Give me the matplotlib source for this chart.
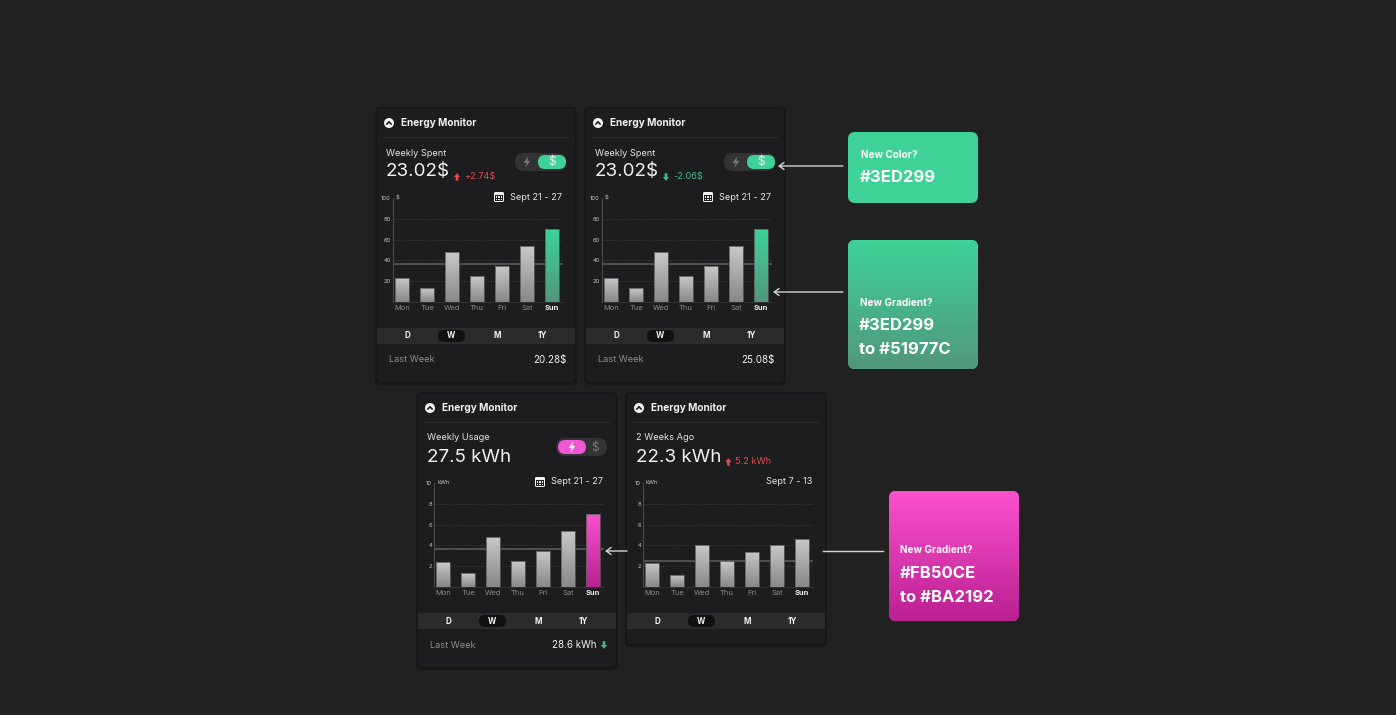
import numpy as np
import matplotlib.pyplot as plt
from matplotlib.patches import FancyBboxPatch, Circle, Polygon, Rectangle
from matplotlib.colors import LinearSegmentedColormap

W, H = 1396, 715
plt.rcParams['font.family'] = ['Inter', 'DejaVu Sans']

# data
days = ['Mon', 'Tue', 'Wed', 'Thu', 'Fri', 'Sat', 'Sun']
spent_week = [23.5, 13, 48, 25, 34.5, 53.5, 70]      # $
spent_avg = 36.5
spent_ticks = [20, 40, 60, 80, 100]
usage_week = [2.4, 1.3, 4.8, 2.5, 3.5, 5.4, 7.0]     # kWh
usage_avg = 3.65
usage_prev = [2.3, 1.2, 4.0, 2.5, 3.4, 4.0, 4.6]     # kWh, 2 weeks ago
usage_prev_avg = 2.5
usage_ticks = [2, 4, 6, 8, 10]
tabs = ['D', 'W', 'M', '1Y']

BG = '#212121'
CARD = '#1d1d1f'
WHITE = '#f2f2f2'
GREY = '#8d8d8d'
RED = '#e5484d'
GREEN = '#3cb88a'

fig = plt.figure(figsize=(W / 100, H / 100), dpi=100)
fig.patch.set_facecolor(BG)
bg = fig.add_axes([0, 0, 1, 1])
bg.set_facecolor(BG)
bg.set_xlim(0, W)
bg.set_ylim(H, 0)
bg.axis('off')
rend = fig.canvas.get_renderer()
ramp = np.linspace(0, 1, 64).reshape(-1, 1)


def rbox(x, y, w, h, r, color, z=1):
    p = FancyBboxPatch((x, y), w, h, boxstyle='round,pad=0,rounding_size=%g' % r,
                       fc=color, ec='none', zorder=z)
    bg.add_patch(p)
    return p


def grad(ax, patch, extent, c0, c1, z):
    cmap = LinearSegmentedColormap.from_list('g', [c0, c1])
    im = ax.imshow(ramp, cmap=cmap, extent=extent, aspect='auto', zorder=z,
                   interpolation='bilinear')
    im.set_clip_path(patch)


def arrow_glyph(x, y, up, color, s=1.0):
    pts = np.array([(-1.3, 3.8), (-1.3, 0), (-3.2, 0), (0, -3.8), (3.2, 0), (1.3, 0), (1.3, 3.8)]) * s
    if not up:
        pts[:, 1] *= -1
    bg.add_patch(Polygon(pts + [x, y], closed=True, fc=color, ec='none', zorder=5))


def bolt(x, y, color, s=6):
    pts = np.array([(0.25, -1), (-0.55, 0.15), (-0.05, 0.15), (-0.3, 1),
                    (0.55, -0.2), (0.05, -0.2)]) * s
    bg.add_patch(Polygon(pts + [x, y], closed=True, fc=color, ec='none', zorder=6))


def calendar(x, y):
    bg.add_patch(FancyBboxPatch((x - 5, y - 5), 10, 10, boxstyle='round,pad=0,rounding_size=1.5',
                                fc=WHITE, ec='none', zorder=5))
    bg.add_patch(Rectangle((x - 4, y - 2), 8, 6, fc=CARD, ec='none', zorder=6))
    for dx in (-2.5, 0, 2.5):
        for dy in (0, 2.2):
            bg.add_patch(Rectangle((x + dx - 0.7, y + dy - 0.7), 1.4, 1.4, fc=WHITE, ec='none', zorder=7))


def chart(ox, oy, vals, avg, ticks, unit, c_top, c_bot):
    l, r, b, t = ox + 16, ox + 186, oy + 194, oy + 90
    ax = fig.add_axes([l / W, 1 - b / H, (r - l) / W, (b - t) / H])
    ax.set_facecolor('none')
    x = np.arange(len(days))
    bars = ax.bar(x, vals, width=0.56, color='none', edgecolor='#5c5c5c', lw=0.6, zorder=3)
    for i, bar in enumerate(bars):
        c0, c1 = ('#c8c8c8', '#888888')
        if i == len(days) - 1 and c_top is not None:
            c0, c1 = c_top, c_bot
        bx, bw, bh = bar.get_x(), bar.get_width(), bar.get_height()
        grad(ax, bar, [bx, bx + bw, 0, bh], c0, c1, 2)
    for g in ticks[:-1]:
        ax.axhline(g, color='#404040', lw=0.7, ls=(0, (1, 1.5)), zorder=1)
    ax.axhline(avg, color='#4f4f4f', lw=1.5, zorder=1.5)
    ax.set_xlim(-0.36, 6.44)
    ax.set_ylim(0, ticks[-1])
    ax.set_yticks(ticks, [str(v) for v in ticks])
    ax.set_xticks(x, days)
    ax.tick_params(axis='y', length=0, pad=1.5, labelsize=4.2, labelcolor='#c4c4c4')
    ax.tick_params(axis='x', length=0, pad=2.3, labelsize=5.4, labelcolor='#8a8a8a')
    last = ax.get_xticklabels()[-1]
    last.set_color(WHITE)
    last.set_fontweight('bold')
    for s in ('top', 'right'):
        ax.spines[s].set_visible(False)
    ax.spines['left'].set_color('#4a4a4a')
    ax.spines['left'].set_linewidth(0.8)
    ax.spines['bottom'].set_color('#363636')
    ax.spines['bottom'].set_linewidth(0.6)
    bg.text(ox + 19, oy + 90, unit, color='#c4c4c4', fontsize=4.2, ha='left', va='center')


def card(ox, oy, h, sub, value, delta, delta_up, date, vals, avg, ticks, unit,
         c_top, c_bot, toggle, last_value, last_arrow):
    w = 198
    rbox(ox - 2, oy - 1, w + 4, h + 4, 6, '#171717', z=1)
    rbox(ox, oy, w, h, 5, CARD, z=2)
    # header
    bg.add_patch(Circle((ox + 12, oy + 15), 5, fc=WHITE, ec='none', zorder=5))
    bg.plot([ox + 9.8, ox + 12, ox + 14.2], [oy + 16.1, oy + 13.8, oy + 16.1],
            color=CARD, lw=1.2, zorder=6, solid_capstyle='round')
    bg.text(ox + 24, oy + 15, 'Energy Monitor', color=WHITE, fontsize=7.2, fontweight='bold',
            ha='left', va='center', zorder=5)
    bg.plot([ox + 6, ox + 191], [oy + 29, oy + 29], color='#2e2e30', lw=0.8, zorder=3)
    # value block
    bg.text(ox + 9, oy + 45, sub, color='#e4e4e4', fontsize=6.6, ha='left', va='center', zorder=5)
    t = bg.text(ox + 9, oy + 64, value, color=WHITE, fontsize=13.5, ha='left', va='center', zorder=5)
    if delta:
        x_end = t.get_window_extent(renderer=rend).x1
        col = RED if delta_up else GREEN
        arrow_glyph(x_end + 7, oy + 69, delta_up, col, 1.0)
        bg.text(x_end + 14, oy + 69, delta, color=col, fontsize=6.6, ha='left', va='center', zorder=5)
    # toggle
    if toggle:
        rbox(ox + 138, oy + 45, 51, 18, 9, '#333335', z=4)
        if toggle == 'money':
            rbox(ox + 161, oy + 47, 28, 14, 7, '#3ED299', z=5)
            bolt(ox + 150, oy + 54, '#7a7a7a')
            bg.text(ox + 175, oy + 54.5, '$', color=WHITE, fontsize=8.5, ha='center', va='center', zorder=6)
        else:
            rbox(ox + 140, oy + 47, 28, 14, 7, '#F056D6', z=5)
            bolt(ox + 154, oy + 54, WHITE)
            bg.text(ox + 177, oy + 54.5, '$', color='#7a7a7a', fontsize=8.5, ha='center', va='center', zorder=6)
        calendar(ox + 122, oy + 89)
    bg.text(ox + 185, oy + 89, date, color='#e4e4e4', fontsize=6.6, ha='right', va='center', zorder=5)
    chart(ox, oy, vals, avg, ticks, unit, c_top, c_bot)
    # period tabs
    bg.add_patch(Rectangle((ox, oy + 220), w, 16, fc='#2b2b2d', ec='none', zorder=3))
    rbox(ox + 61, oy + 222, 27, 12, 6, '#111111', z=4)
    for lab, tx in zip(tabs, [30, 74, 120, 165]):
        bg.text(ox + tx, oy + 228, lab, color=WHITE, fontsize=5.8, fontweight='bold',
                ha='center', va='center', zorder=5)
    if last_value:
        bg.text(ox + 12, oy + 252, 'Last Week', color=GREY, fontsize=6.6, ha='left', va='center', zorder=5)
        vx = ox + 189
        if last_arrow:
            arrow_glyph(vx - 3, oy + 252, False, GREEN, 1.0)
            vx -= 10
        bg.text(vx, oy + 252, last_value, color=WHITE, fontsize=7, ha='right', va='center', zorder=5)


card(377, 108, 274, 'Weekly Spent', '23.02$', '+2.74$', True, 'Sept 21 - 27',
     spent_week, spent_avg, spent_ticks, '$', '#3ED299', '#51977C', 'money', '20.28$', False)
card(586, 108, 274, 'Weekly Spent', '23.02$', '-2.06$', False, 'Sept 21 - 27',
     spent_week, spent_avg, spent_ticks, '$', '#3ED299', '#51977C', 'money', '25.08$', False)
card(418, 393, 274, 'Weekly Usage', '27.5 kWh', None, False, 'Sept 21 - 27',
     usage_week, usage_avg, usage_ticks, 'kWh', '#FB50CE', '#BA2192', 'energy', '28.6 kWh', True)
card(627, 393, 251, '2 Weeks Ago', '22.3 kWh', '5.2 kWh', True, 'Sept 7 - 13',
     usage_prev, usage_prev_avg, usage_ticks, 'kWh', None, None, None, None, False)

# colour notes
p = rbox(848, 132, 130, 71, 7, '#3ED299', z=2)
bg.text(861, 155, 'New Color?', color='white', fontsize=7.2, fontweight='bold', ha='left', va='center', zorder=5)
bg.text(860, 178, '#3ED299', color='white', fontsize=12, fontweight='bold', ha='left', va='center', zorder=5)

p = rbox(848, 240, 130, 129, 7, '#3ED299', z=2)
grad(bg, p, [848, 978, 369, 240], '#3ED299', '#51977C', 3)
bg.text(860, 303, 'New Gradient?', color='white', fontsize=7.2, fontweight='bold', ha='left', va='center', zorder=5)
bg.text(859, 326, '#3ED299', color='white', fontsize=12, fontweight='bold', ha='left', va='center', zorder=5)
bg.text(859, 350, 'to #51977C', color='white', fontsize=12, fontweight='bold', ha='left', va='center', zorder=5)

p = rbox(889, 491, 130, 130, 7, '#FB50CE', z=2)
grad(bg, p, [889, 1019, 621, 491], '#FB50CE', '#BA2192', 3)
bg.text(900, 550, 'New Gradient?', color='white', fontsize=7.2, fontweight='bold', ha='left', va='center', zorder=5)
bg.text(900, 573, '#FB50CE', color='white', fontsize=12, fontweight='bold', ha='left', va='center', zorder=5)
bg.text(900, 598, 'to #BA2192', color='white', fontsize=12, fontweight='bold', ha='left', va='center', zorder=5)

# connectors
aprops = dict(arrowstyle='->,head_length=0.35,head_width=0.25', color='#d4d4d4', lw=1, shrinkA=0, shrinkB=0)
bg.annotate('', xy=(778, 166), xytext=(843, 166), arrowprops=aprops, zorder=6)
bg.annotate('', xy=(773, 292), xytext=(843, 292), arrowprops=aprops, zorder=6)
bg.annotate('', xy=(605, 551), xytext=(627, 551), arrowprops=aprops, zorder=6)
bg.plot([823, 883], [551, 551], color='#d4d4d4', lw=1, zorder=6)

bg.set_xlim(0, W)
bg.set_ylim(H, 0)
fig.savefig('out.png', dpi=100, facecolor=BG)
